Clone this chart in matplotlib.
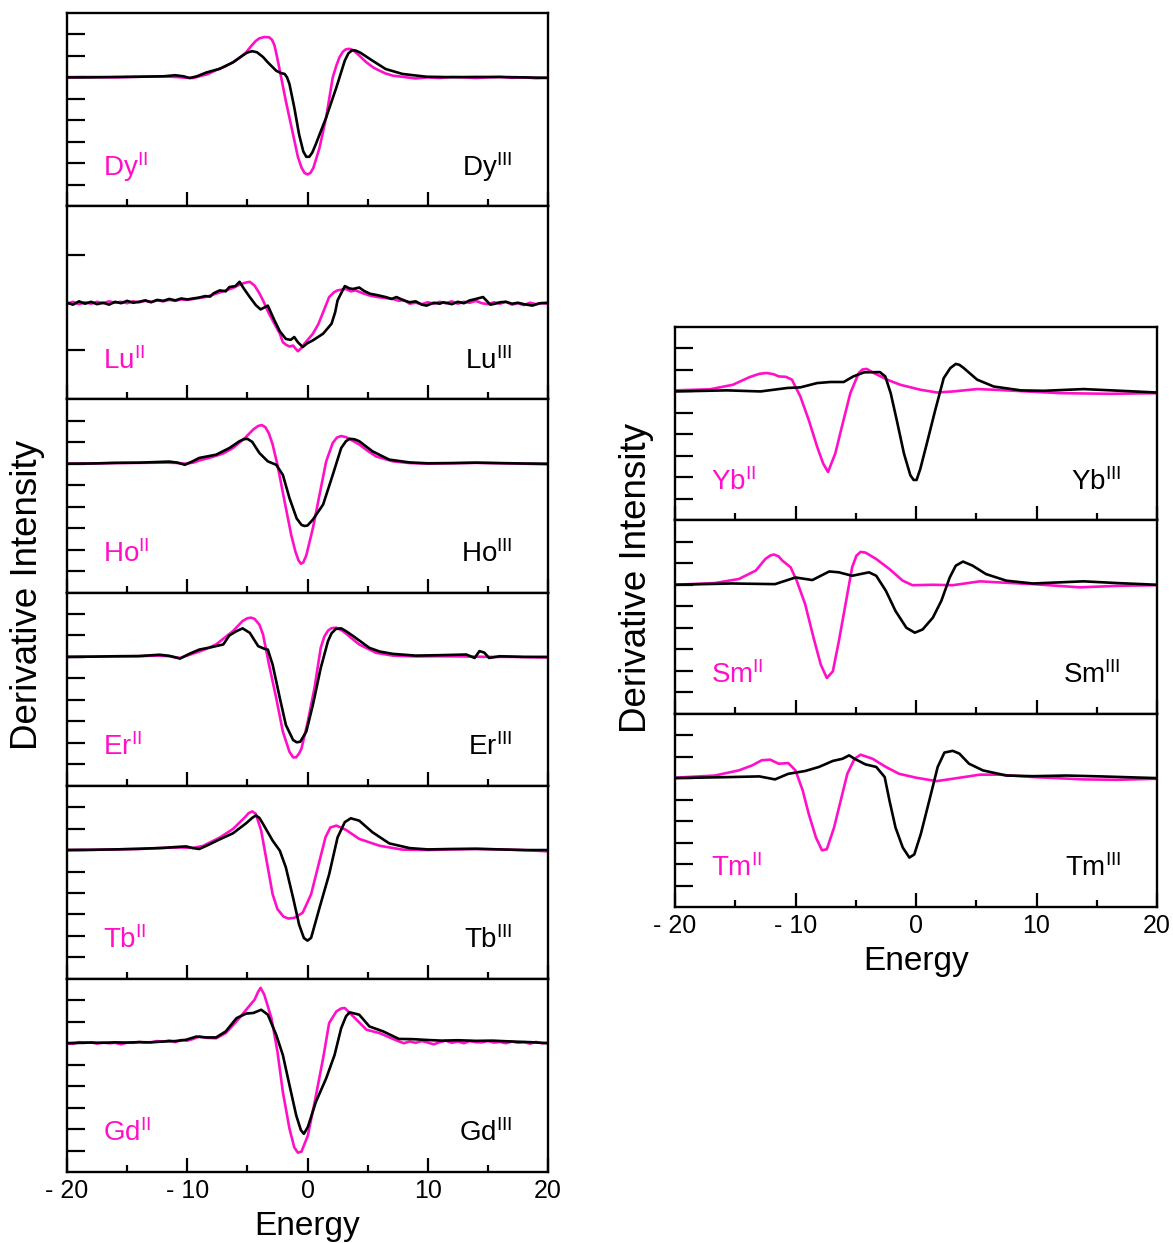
import matplotlib
matplotlib.use("Agg")
import matplotlib.pyplot as plt
from matplotlib.ticker import MultipleLocator

plt.rcParams["font.family"] = ["Liberation Sans", "DejaVu Sans"]
plt.rcParams["mathtext.fontset"] = "custom"
plt.rcParams["mathtext.rm"] = "Liberation Sans"
plt.rcParams["mathtext.it"] = "Liberation Sans:italic"
plt.rcParams["mathtext.bf"] = "Liberation Sans:bold"

MAGENTA = "#ff10c8"

# x ticks shared by all panels
XTICKS = [-20, -10, 0, 10, 20]
XTICK_LABELS = ["- 20", "- 10", "0", "10", "20"]

# (energy, derivative intensity), divalent (II) and trivalent (III)
DY_II = [(-20, 0), (-18, 0.02), (-16, 0), (-14, 0.03), (-12, 0.05), (-11, 0.02), (-10, -0.02), (-9.5, -0.03),
         (-9, 0.05), (-8.3, 0.15), (-7.6, 0.34), (-6.9, 0.5), (-6.2, 0.7), (-5.6, 0.93), (-5.1, 1.17), (-4.7, 1.45),
         (-4.3, 1.7), (-4.0, 1.82), (-3.6, 1.88), (-3.2, 1.87), (-2.95, 1.75), (-2.75, 1.5), (-2.55, 1.0),
         (-2.3, 0.31), (-1.8, -1.1), (-1.2, -2.66), (-0.8, -3.7), (-0.5, -4.2), (-0.25, -4.45), (0.0, -4.52),
         (0.25, -4.45), (0.5, -4.2), (1.0, -3.28), (1.55, -1.87), (2.1, 0), (2.4, 0.55), (2.66, 0.94), (2.95, 1.2),
         (3.2, 1.31), (3.5, 1.33), (3.8, 1.27), (4.3, 1.02), (4.9, 0.7), (5.5, 0.45), (6.0, 0.31), (6.5, 0.18),
         (7.1, 0.08), (8, 0.02), (9, -0.05), (10, 0), (11, -0.03), (12, 0.02), (13, 0), (14, -0.03), (15, 0),
         (16, 0.02), (17, -0.02), (18, 0), (19, -0.04), (20, -0.02)]
DY_III = [(-20, 0), (-18, 0), (-16, 0.02), (-14, 0.03), (-12, 0.05), (-11, 0.1), (-10.3, 0.05), (-9.8, -0.03),
          (-9.2, 0.05), (-8.4, 0.23), (-7.3, 0.4), (-6.2, 0.7), (-5.5, 0.98), (-5.0, 1.16), (-4.6, 1.22),
          (-4.2, 1.17), (-3.7, 0.95), (-3.3, 0.7), (-2.6, 0.31), (-2.2, 0.2), (-1.9, 0.16), (-1.7, 0.0),
          (-1.5, -0.31), (-1.1, -1.4), (-0.7, -2.66), (-0.35, -3.45), (-0.1, -3.7), (0.15, -3.7), (0.4, -3.5),
          (0.7, -3.1), (1.55, -1.87), (2.4, -0.47), (3.1, 0.78), (3.4, 1.12), (3.7, 1.26), (4.0, 1.25),
          (4.4, 1.15), (5.4, 0.78), (6.5, 0.39), (7.9, 0.16), (9.9, 0.03), (12, 0.01), (14, 0.02), (16, 0.02),
          (18, 0.0), (20, -0.02)]

LU_II = [(-20, -0.02), (-19.5, 0.02), (-19, -0.03), (-18.5, 0.01), (-18, -0.02), (-17.5, 0.02), (-17, -0.01),
         (-16.5, 0.03), (-16, 0.0), (-15.5, 0.02), (-15, -0.01), (-14.5, 0.03), (-14, 0.01), (-13.5, 0.04),
         (-13, 0.02), (-12.5, 0.05), (-12, 0.03), (-11.5, 0.06), (-11, 0.04), (-10.5, 0.07), (-10, 0.06),
         (-9.5, 0.08), (-9, 0.1), (-8.5, 0.12), (-8.1, 0.15), (-7.5, 0.2), (-6.8, 0.26), (-6.2, 0.31),
         (-5.65, 0.38), (-5.2, 0.42), (-4.8, 0.44), (-4.4, 0.36), (-4.0, 0.2), (-3.7, 0.05), (-3.2, -0.23),
         (-2.6, -0.51), (-2.3, -0.65), (-2.05, -0.83), (-1.8, -0.88), (-1.5, -0.92), (-1.2, -0.9), (-0.8, -1.02),
         (-0.5, -0.95), (-0.25, -0.86), (0.45, -0.65), (0.9, -0.45), (1.3, -0.2), (1.8, 0.12), (2.2, 0.22),
         (2.5, 0.26), (3.2, 0.29), (3.6, 0.24), (4.0, 0.26), (4.6, 0.2), (5.2, 0.15), (5.8, 0.12), (6.4, 0.1),
         (7.1, 0.08), (7.6, 0.04), (8.0, 0.06), (8.5, -0.02), (9, 0.0), (9.5, -0.03), (10, 0.01), (10.5, -0.02),
         (11, 0.02), (11.5, -0.01), (12, 0.03), (12.5, -0.02), (13, 0.02), (13.5, 0.0), (14, 0.04), (14.5, -0.01),
         (15, -0.03), (15.5, 0.01), (16, -0.02), (16.5, 0.02), (17, -0.04), (17.5, -0.01), (18, -0.05),
         (18.5, 0.0), (19, -0.03), (19.5, -0.01), (20, -0.02)]
LU_III = [(-20, 0.0), (-19.5, -0.04), (-19, 0.03), (-18.5, -0.02), (-18, 0.02), (-17.5, -0.03), (-17, 0.0),
          (-16.5, -0.04), (-16, 0.02), (-15.5, -0.01), (-15, 0.04), (-14.5, 0.0), (-14, 0.02), (-13.5, 0.05),
          (-13, 0.01), (-12.5, 0.06), (-12, 0.04), (-11.5, 0.08), (-11, 0.05), (-10.5, 0.09), (-10, 0.07),
          (-9.5, 0.09), (-9, 0.11), (-8.5, 0.14), (-8.1, 0.13), (-7.8, 0.2), (-7.3, 0.26), (-6.8, 0.24),
          (-6.5, 0.33), (-6.0, 0.35), (-5.65, 0.44), (-5.3, 0.3), (-4.8, 0.12), (-4.3, -0.05), (-3.9, -0.14),
          (-3.6, -0.1), (-3.3, -0.06), (-2.75, -0.37), (-2.3, -0.6), (-1.8, -0.76), (-1.4, -0.78), (-1.1, -0.72),
          (-0.8, -0.83), (-0.4, -0.93), (0.0, -0.85), (0.45, -0.79), (1.3, -0.65), (2.0, -0.44), (2.3, -0.2),
          (2.5, 0.05), (2.8, 0.2), (3.1, 0.35), (3.5, 0.3), (3.8, 0.29), (4.3, 0.32), (4.7, 0.25), (5.2, 0.19),
          (5.8, 0.16), (6.5, 0.12), (7.0, 0.08), (7.4, 0.12), (8.0, 0.05), (8.5, 0.01), (9.0, 0.03), (9.5, -0.04),
          (9.9, -0.06), (10.5, 0.0), (11.0, -0.02), (11.3, 0.01), (12.0, -0.03), (12.5, 0.02), (13, -0.01),
          (13.5, 0.05), (14, 0.08), (14.6, 0.12), (15.2, -0.04), (15.6, -0.02), (16, 0.01), (16.5, 0.02),
          (17, -0.02), (17.5, 0.0), (18, -0.03), (18.7, -0.06), (19.3, -0.01), (20, 0.0)]

HO_II = [(-20, 0), (-18, 0.01), (-16, 0.03), (-14, 0.04), (-12, 0.05), (-11, 0.04), (-10.2, 0.0), (-9.5, 0.05),
         (-9, 0.15), (-8, 0.3), (-7, 0.48), (-6.2, 0.73), (-5.2, 1.2), (-4.5, 1.6), (-4.1, 1.76), (-3.8, 1.8),
         (-3.5, 1.7), (-3.2, 1.4), (-2.9, 0.9), (-2.5, -0.05), (-1.9, -1.77), (-1.35, -3.33), (-1.0, -4.1),
         (-0.75, -4.5), (-0.55, -4.66), (-0.35, -4.6), (-0.1, -4.27), (0.45, -3.0), (1.0, -1.45), (1.55, 0.1),
         (2.1, 0.97), (2.45, 1.22), (2.8, 1.29), (3.2, 1.24), (4.3, 0.9), (5.0, 0.6), (5.7, 0.34), (7.1, 0.11),
         (8.5, 0.03), (10, 0.0), (12, 0.02), (14, 0.04), (16, 0.02), (18, 0.0), (20, -0.03)]
HO_III = [(-20, 0), (-18, 0.01), (-16, 0.04), (-14, 0.05), (-12.5, 0.08), (-11.5, 0.1), (-10.8, 0.05),
          (-10.2, -0.05), (-9.6, 0.1), (-9.0, 0.27), (-7.6, 0.42), (-6.5, 0.73), (-5.65, 1.05), (-5.3, 1.14),
          (-5.0, 1.16), (-4.6, 1.02), (-4.0, 0.5), (-3.3, 0.11), (-2.6, -0.05), (-2.05, -0.52), (-1.5, -1.6),
          (-0.9, -2.55), (-0.5, -2.85), (-0.25, -2.9), (0.0, -2.88), (0.45, -2.6), (1.3, -1.9), (2.1, -0.52),
          (2.8, 0.73), (3.2, 1.05), (3.5, 1.16), (3.9, 1.14), (4.3, 1.05), (5.4, 0.58), (6.8, 0.19), (8.5, 0.06),
          (10, 0.02), (12, 0.03), (14, 0.05), (16, 0.03), (18, 0.01), (20, 0.0)]

ER_II = [(-20, 0), (-18, 0.01), (-16, 0.02), (-14, 0.03), (-12.5, 0.06), (-11.5, 0.03), (-10.6, -0.05),
         (-9.8, 0.1), (-9, 0.25), (-8.3, 0.4), (-7.6, 0.58), (-6.2, 1.2), (-5.4, 1.67), (-5.0, 1.8), (-4.7, 1.83),
         (-4.4, 1.77), (-4.0, 1.5), (-3.7, 1.05), (-3.2, -0.36), (-2.6, -1.92), (-2.05, -3.48), (-1.5, -4.42),
         (-1.2, -4.68), (-0.95, -4.68), (-0.7, -4.5), (-0.5, -4.27), (0.03, -3.0), (0.58, -1.45), (1.1, 0.42),
         (1.4, 0.95), (1.7, 1.22), (2.0, 1.34), (2.4, 1.36), (2.95, 1.2), (4.3, 0.58), (5.7, 0.19), (7.1, 0.06),
         (9, 0.02), (11, 0.03), (13, 0.02), (15, 0.0), (17, 0.0), (20, -0.03)]
ER_III = [(-20, 0), (-18, 0.01), (-16, 0.03), (-14, 0.04), (-12.3, 0.1), (-11.5, 0.05), (-10.6, -0.08),
          (-9.8, 0.15), (-9, 0.34), (-8, 0.45), (-7.0, 0.58), (-6.5, 1.0), (-5.9, 1.2), (-5.4, 1.33), (-4.8, 1.12),
          (-4.1, 0.5), (-3.6, 0.38), (-3.3, 0.34), (-2.9, -0.36), (-2.3, -1.92), (-1.8, -3.17), (-1.2, -3.87),
          (-0.9, -3.98), (-0.6, -3.95), (-0.1, -3.48), (0.45, -2.23), (1.1, -0.52), (1.7, 0.73), (2.0, 1.1),
          (2.35, 1.3), (2.8, 1.33), (3.2, 1.2), (3.8, 0.97), (5.15, 0.42), (6, 0.25), (7.1, 0.14), (9, 0.06),
          (11, 0.08), (13.2, 0.11), (13.9, -0.05), (14.3, 0.27), (14.7, 0.2), (15.1, -0.05), (16, 0.03),
          (18, 0.0), (20, 0.0)]

TB_II = [(-20, 0), (-18, 0.01), (-16, 0.03), (-14, 0.05), (-12, 0.1), (-10.5, 0.12), (-9.5, 0.1), (-8.7, 0.19),
         (-7.3, 0.58), (-6.2, 0.98), (-5.2, 1.53), (-4.9, 1.72), (-4.6, 1.8), (-4.3, 1.69), (-3.85, 0.9),
         (-3.4, -0.5), (-2.9, -2.06), (-2.5, -2.75), (-2.0, -3.1), (-1.6, -3.19), (-1.1, -3.16), (-0.4, -2.92),
         (0.3, -2.06), (1.0, -0.5), (1.5, 0.6), (1.9, 1.05), (2.4, 1.14), (3.2, 0.94), (4.3, 0.52), (6.0, 0.2),
         (7.9, 0.02), (10, 0.0), (12, 0.03), (14, 0.05), (16, 0.03), (18, 0.0), (20, -0.06)]
TB_III = [(-20, 0), (-18, 0.01), (-16, 0.03), (-14, 0.06), (-12, 0.1), (-11, 0.14), (-10.1, 0.17), (-9.6, 0.1),
          (-9.0, 0.05), (-8.4, 0.2), (-7.3, 0.5), (-6.2, 0.78), (-5.1, 1.25), (-4.6, 1.5), (-4.3, 1.61),
          (-4.0, 1.5), (-3.7, 1.22), (-2.9, 0.44), (-2.3, -0.03), (-1.8, -0.81), (-1.2, -2.22), (-0.7, -3.47),
          (-0.3, -4.1), (0.0, -4.22), (0.3, -4.09), (1.0, -2.69), (1.8, -1.13), (2.5, 0.59), (3.1, 1.3),
          (3.6, 1.48), (4.3, 1.37), (5.4, 0.83), (6.8, 0.31), (8.5, 0.09), (10, 0.03), (12, 0.05), (14, 0.06),
          (16, 0.03), (18, 0.0), (20, 0.0)]

GD_II = [(-20, 0.0), (-19.5, -0.03), (-19, 0.05), (-18.5, 0.02), (-18, 0.04), (-17.5, -0.02), (-17, 0.03),
         (-16.5, 0.0), (-16, 0.02), (-15.5, -0.05), (-15, 0.03), (-14.5, 0.02), (-14, 0.06), (-13.5, 0.03),
         (-13, 0.05), (-12.5, 0.1), (-12, 0.07), (-11.5, 0.13), (-11, 0.05), (-10.5, 0.15), (-10, 0.12),
         (-9.5, 0.2), (-9.0, 0.31), (-8.4, 0.25), (-7.6, 0.23), (-6.8, 0.47), (-5.9, 1.02), (-5.1, 1.56),
         (-4.4, 2.03), (-4.1, 2.4), (-3.9, 2.58), (-3.6, 2.27), (-3.0, 1.17), (-2.5, -0.39), (-2.05, -2.27),
         (-1.5, -3.98), (-1.1, -4.85), (-0.8, -5.1), (-0.5, -5.05), (0.03, -4.3), (0.6, -2.73), (1.3, -0.7),
         (1.8, 0.94), (2.4, 1.48), (2.8, 1.62), (3.1, 1.64), (3.8, 1.25), (4.9, 0.63), (6.0, 0.47), (7.4, 0.13),
         (8.0, 0.0), (8.5, 0.08), (9.0, 0.02), (9.5, 0.1), (10, 0.03), (10.5, -0.05), (11, 0.05), (11.5, 0.12),
         (12, 0.02), (12.5, 0.08), (13, 0.0), (13.5, 0.1), (14, 0.05), (14.5, 0.04), (15, 0.1), (15.5, 0.03),
         (16, 0.06), (16.5, 0.0), (17, 0.08), (17.5, 0.02), (18, 0.05), (18.5, -0.02), (19, 0.06), (19.5, 0.0),
         (20, 0.02)]
GD_III = [(-20, 0.0), (-19, 0.02), (-18, 0.03), (-17, 0.02), (-16, 0.04), (-15, 0.03), (-14, 0.05), (-13, 0.04),
          (-12, 0.08), (-11, 0.1), (-10.1, 0.16), (-9.25, 0.31), (-8.4, 0.27), (-7.6, 0.27), (-6.8, 0.55),
          (-5.9, 1.17), (-5.1, 1.38), (-4.5, 1.41), (-3.85, 1.56), (-3.3, 1.33), (-2.6, 0.39), (-2.05, -0.55),
          (-1.5, -1.95), (-0.94, -3.36), (-0.55, -4.05), (-0.3, -4.22), (0.03, -3.9), (0.7, -2.73), (1.55, -1.64),
          (2.25, -0.55), (2.8, 0.7), (3.2, 1.25), (3.5, 1.44), (4.3, 1.33), (5.15, 0.78), (6.3, 0.55), (7.6, 0.2),
          (8.75, 0.19), (10, 0.15), (11.2, 0.12), (12.5, 0.14), (14, 0.11), (15.4, 0.12), (17, 0.08), (18.5, 0.05),
          (20, 0.0)]

YB_II = [(-20, 0.05), (-17.1, 0.1), (-15.2, 0.31), (-13.8, 0.67), (-13.0, 0.82), (-12.4, 0.86), (-11.8, 0.8),
         (-11.4, 0.7), (-10.8, 0.68), (-10.3, 0.55), (-9.6, -0.23), (-8.9, -1.33), (-8.2, -2.58), (-7.7, -3.36),
         (-7.3, -3.75), (-6.7, -2.89), (-6.15, -1.64), (-5.45, -0.08), (-4.75, 0.86), (-4.45, 1.02), (-4.1, 1.05),
         (-3.5, 0.86), (-2.4, 0.55), (-1.3, 0.31), (0.36, 0.08), (1.75, -0.05), (3.1, 0.0), (5.07, 0.11),
         (6.45, 0.08), (9.2, 0.0), (12, -0.08), (16.1, -0.11), (20, -0.08)]
YB_III = [(-20, 0.0), (-15.7, 0.05), (-12.9, 0.0), (-10.7, 0.16), (-9.6, 0.19), (-8.2, 0.39), (-7.1, 0.44),
          (-6.0, 0.44), (-5.2, 0.7), (-4.3, 0.89), (-3.0, 0.9), (-2.55, 0.7), (-2.1, -0.08), (-1.6, -1.33),
          (-1.0, -2.89), (-0.47, -3.9), (-0.2, -4.12), (0.05, -4.12), (0.36, -3.6), (0.9, -2.42), (1.6, -0.86),
          (2.3, 0.62), (2.85, 1.09), (3.3, 1.28), (3.6, 1.24), (3.96, 1.09), (5.07, 0.55), (6.45, 0.23),
          (8.7, 0.05), (10.6, 0.03), (13.9, 0.11), (17, 0.03), (20, -0.05)]

SM_II = [(-20, 0.0), (-16.7, 0.08), (-14.7, 0.27), (-13.3, 0.66), (-12.5, 1.2), (-12.1, 1.36), (-11.8, 1.41),
         (-11.4, 1.32), (-11.1, 1.13), (-10.4, 0.81), (-9.9, 0.19), (-9.2, -0.9), (-8.5, -2.47), (-7.9, -3.72),
         (-7.4, -4.34), (-6.9, -4.03), (-6.4, -2.62), (-5.8, -0.75), (-5.3, 0.81), (-4.95, 1.35), (-4.6, 1.53),
         (-4.2, 1.5), (-3.3, 1.2), (-2.2, 0.73), (-1.1, 0.19), (-0.3, -0.02), (1.4, 0.0), (3.05, -0.02),
         (5.3, 0.16), (6.9, 0.11), (9.7, 0.03), (13.6, -0.12), (16.7, -0.05), (20, -0.02)]
SM_III = [(-20, 0.0), (-15.3, 0.06), (-11.7, 0.03), (-10.0, 0.34), (-8.6, 0.22), (-7.2, 0.62), (-6.4, 0.58),
          (-5.3, 0.42), (-3.9, 0.58), (-3.3, 0.42), (-2.5, -0.28), (-1.7, -1.22), (-0.8, -2.0), (-0.1, -2.23),
          (0.55, -2.08), (1.4, -1.53), (2.1, -0.75), (2.8, 0.34), (3.3, 0.89), (3.9, 1.08), (4.7, 0.89),
          (5.8, 0.5), (7.5, 0.19), (9.7, 0.06), (13.9, 0.16), (16.7, 0.08), (20, 0.0)]

TM_II = [(-20, 0.02), (-16.7, 0.12), (-14.7, 0.36), (-13.6, 0.59), (-12.8, 0.83), (-12.1, 0.86), (-11.4, 0.67),
         (-10.6, 0.7), (-10.0, 0.36), (-9.4, -0.58), (-8.9, -1.67), (-8.3, -2.77), (-7.8, -3.36), (-7.4, -3.31),
         (-6.8, -2.3), (-6.25, -1.05), (-5.7, 0.2), (-5.1, 0.9), (-4.6, 1.09), (-3.6, 0.9), (-2.5, 0.52),
         (-1.4, 0.2), (0.0, 0.02), (1.7, -0.14), (3.05, -0.03), (5.3, 0.16), (6.9, 0.16), (9.7, 0.05),
         (13.9, -0.06), (16.7, -0.08), (20, -0.03)]
TM_III = [(-20, 0.0), (-15.3, 0.05), (-13, 0.08), (-11.7, -0.06), (-10.6, 0.2), (-9.2, 0.33), (-8.05, 0.52),
          (-6.9, 0.8), (-6.1, 0.9), (-5.55, 1.06), (-5.1, 0.9), (-4.2, 0.64), (-3.3, 0.52), (-2.6, 0.05),
          (-2.2, -1.05), (-1.7, -2.3), (-1.1, -3.23), (-0.55, -3.7), (-0.14, -3.55), (0.4, -2.6), (1.1, -1.05),
          (1.8, 0.52), (2.36, 1.19), (3.05, 1.27), (3.6, 1.14), (4.4, 0.67), (5.55, 0.36), (7.5, 0.12),
          (9.7, 0.09), (12.5, 0.12), (15.3, 0.08), (20, 0.0)]

LEFT_PANELS = ["Dy", "Lu", "Ho", "Er", "Tb", "Gd"]
RIGHT_PANELS = ["Yb", "Sm", "Tm"]
CURVES = {
    "Dy": (DY_II, DY_III), "Lu": (LU_II, LU_III), "Ho": (HO_II, HO_III),
    "Er": (ER_II, ER_III), "Tb": (TB_II, TB_III), "Gd": (GD_II, GD_III),
    "Yb": (YB_II, YB_III), "Sm": (SM_II, SM_III), "Tm": (TM_II, TM_III),
}


def draw_panel(ax, name, is_bottom):
    pts2, pts3 = CURVES[name]
    ax.plot([p[0] for p in pts2], [p[1] for p in pts2], color=MAGENTA, lw=1.9,
            solid_joinstyle="round")
    ax.plot([p[0] for p in pts3], [p[1] for p in pts3], color="black", lw=1.9,
            solid_joinstyle="round")

    ax.set_xlim(-20, 20)
    if name == "Lu":
        ax.set_ylim(-2.03, 2.03)
        ax.set_yticks([-1, 0, 1])
    else:
        ax.set_ylim(-6, 3)
        ax.set_yticks(range(-5, 3))

    ax.set_xticks(XTICKS)
    ax.set_xticklabels(XTICK_LABELS)
    ax.xaxis.set_minor_locator(MultipleLocator(5))
    ax.tick_params(axis="x", which="major", direction="in", length=10, width=1.6,
                   top=False, labelsize=18, pad=5, labelbottom=is_bottom)
    ax.tick_params(axis="x", which="minor", direction="in", length=5, width=1.6, top=False)
    ax.tick_params(axis="y", which="major", direction="in", length=13, width=1.6,
                   right=False, labelleft=False)
    for sp in ax.spines.values():
        sp.set_linewidth(1.7)

    ax.text(0.075, 0.2, name + r"$^{\rm II}$", color=MAGENTA, fontsize=20,
            transform=ax.transAxes, ha="left", va="center")
    ax.text(0.925, 0.2, name + r"$^{\rm III}$", color="black", fontsize=20,
            transform=ax.transAxes, ha="right", va="center")
    if is_bottom:
        ax.set_xlabel("Energy", fontsize=24, labelpad=6)


fig = plt.figure(figsize=(11.73, 12.43), dpi=100)

# left column: six stacked panels
lx, lw = 67 / 1173, 481 / 1173
lb, lh = 1 - 1172 / 1243, (1159 / 1243) / 6
for i, name in enumerate(LEFT_PANELS):
    ax = fig.add_axes([lx, lb + (5 - i) * lh, lw, lh])
    draw_panel(ax, name, i == len(LEFT_PANELS) - 1)

# right column: three stacked panels
rx, rw = 675 / 1173, 482 / 1173
rb, rh = 1 - 907 / 1243, (580 / 1243) / 3
for i, name in enumerate(RIGHT_PANELS):
    ax = fig.add_axes([rx, rb + (2 - i) * rh, rw, rh])
    draw_panel(ax, name, i == len(RIGHT_PANELS) - 1)

fig.text(28 / 1173, 1 - 595 / 1243, "Derivative Intensity", rotation=90,
         fontsize=26.5, ha="center", va="center")
fig.text(637 / 1173, 1 - 578 / 1243, "Derivative Intensity", rotation=90,
         fontsize=26.5, ha="center", va="center")

fig.savefig("out.png", dpi=100)
